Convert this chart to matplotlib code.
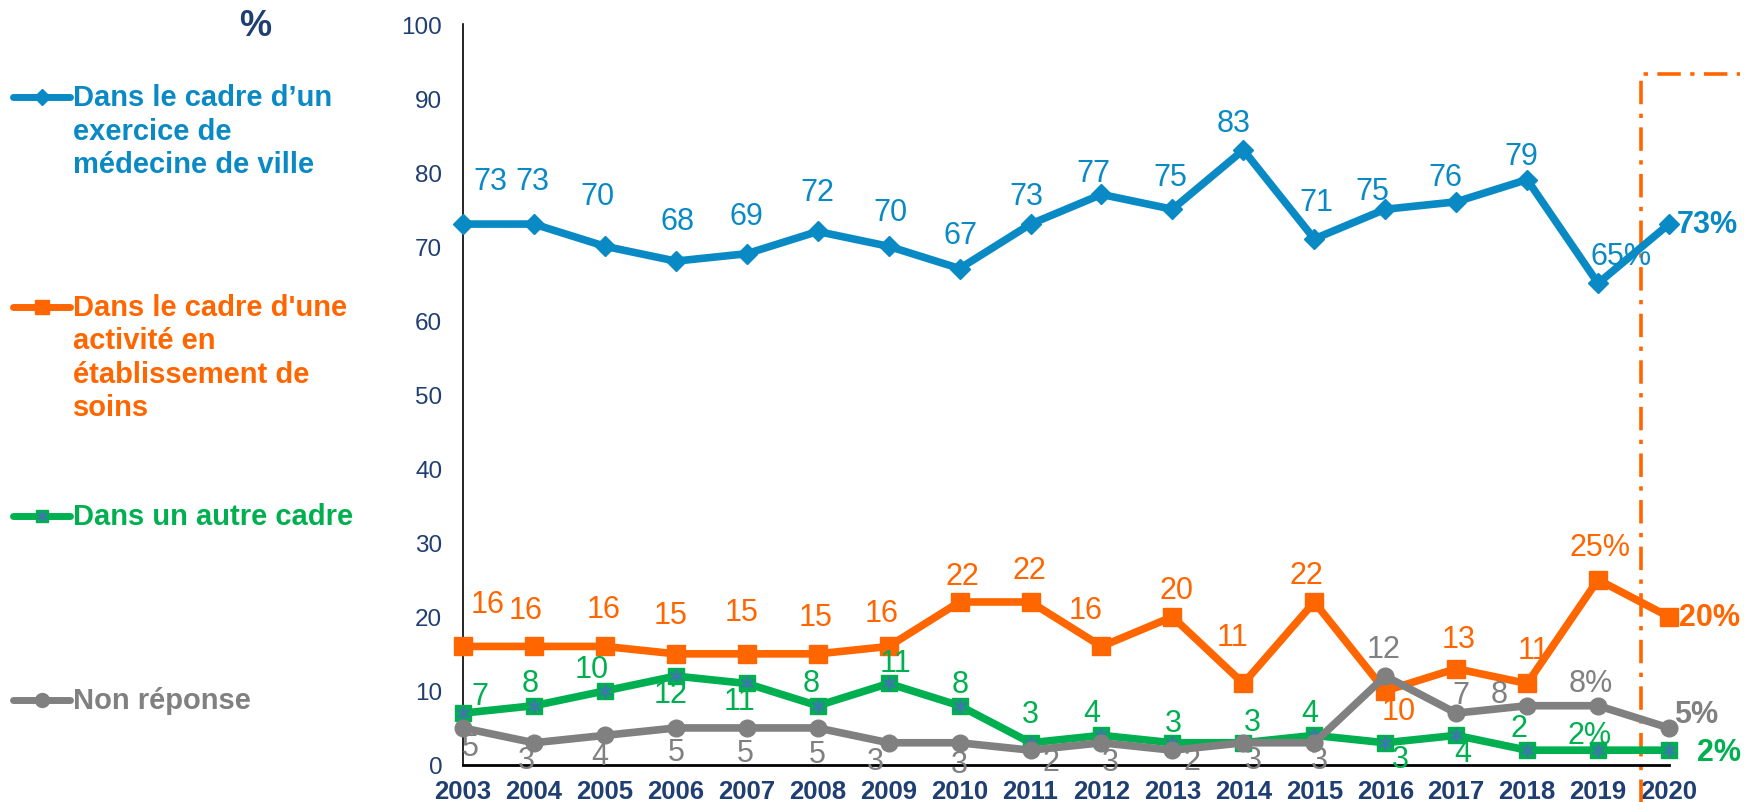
import matplotlib
matplotlib.use("Agg")
import matplotlib.pyplot as plt
from matplotlib.lines import Line2D

plt.rcParams['font.family'] = ['Liberation Sans', 'DejaVu Sans']

W, H = 1744, 803

# ---------------- data ----------------
years = list(range(2003, 2021))
ville = [73, 73, 70, 68, 69, 72, 70, 67, 73, 77, 75, 83, 71, 75, 76, 79, 65, 73]
etablissement = [16, 16, 16, 15, 15, 15, 16, 22, 22, 16, 20, 11, 22, 10, 13, 11, 25, 20]
autre = [7, 8, 10, 12, 11, 8, 11, 8, 3, 4, 3, 3, 4, 3, 4, 2, 2, 2]
non_reponse = [5, 3, 4, 5, 5, 5, 3, 3, 2, 3, 2, 3, 3, 12, 7, 8, 8, 5]

legend_labels = [
    ["Dans le cadre d\u2019un", "exercice de", "m\u00e9decine de ville"],
    ["Dans le cadre d'une", "activit\u00e9 en", "\u00e9tablissement de", "soins"],
    ["Dans un autre cadre"],
    ["Non r\u00e9ponse"],
]
yticks = list(range(0, 101, 10))

# ---------------- styles ----------------
BLUE = '#0a8ac4'
ORANGE = '#ff6600'
GREEN = '#00b050'
GRAY = '#808080'
NAVY = '#1f3e72'

# label offsets in pixels (dx right, dy down) relative to the point
off_blue = [(27, -43), (-2, -43), (-7, -50), (2, -40), (0, -38), (0, -39), (2, -34), (1, -34),
            (-4, -28), (-8, -21), (-2, -32), (-10, -27), (2, -37), (-13, -18), (-11, -25),
            (-6, -24), (23, -27), (8, 0)]
off_orange = [(25, -42), (-8, -36), (-1, -37), (-5, -39), (-5, -42), (-2, -37), (-7, -33), (3, -26),
              (-1, -32), (-16, -36), (4, -27), (-11, -46), (-8, -27), (13, 20), (2, -30),
              (6, -33), (2, -33), (10, 0)]
off_green = [(17, -17), (-4, -23), (-13, -22), (-5, 18), (-7, 18), (-7, -23), (7, -20), (1, -22),
             (0, -29), (-10, -22), (1, -20), (9, -21), (-5, -22), (15, 16), (7, 18),
             (-8, -22), (-8, -15), (28, 2)]
off_gray = [(7, 19), (-8, 17), (-5, 21), (0, 24), (-1, 25), (0, 26), (-13, 18), (0, 21),
            (20, 12), (9, 19), (20, 11), (10, 17), (5, 17), (-2, -27), (5, -18),
            (-28, -12), (-7, -23), (5, -14)]

fig = plt.figure(figsize=(W / 100, H / 100), dpi=100)
ax = fig.add_axes([463 / W, 37 / H, (1669 - 463) / W, (766 - 25) / H])

series = [
    (ville, BLUE, dict(marker='D', ms=10), off_blue, 3),
    (etablissement, ORANGE, dict(marker='s', ms=12.5), off_orange, 4),
    (autre, GREEN, dict(marker='s', ms=11), off_green, 5),
    (non_reponse, GRAY, dict(marker='o', ms=12), off_gray, 6),
]

LABEL_FS = 22
for vals, col, mk, offs, z in series:
    ax.plot(years, vals, color=col, lw=5.5, mec=col, mfc=col, clip_on=False, zorder=z, **mk)
    if col == GREEN:
        ax.plot(years, vals, ls='none', marker=(6, 2, 0), ms=10, mew=1.4, color='#3a7aa8',
                clip_on=False, zorder=z + 0.1)
    n = len(vals)
    for i, (x, v) in enumerate(zip(years, vals)):
        dx, dy = offs[i]
        if i == n - 1:
            ax.annotate(f"{v}%", (x, v), xytext=(dx, -dy), textcoords='offset pixels',
                        ha='left', va='center', fontsize=LABEL_FS, fontweight='bold', color=col,
                        annotation_clip=False, zorder=10)
        else:
            txt = f"{v}%" if i == n - 2 else f"{v}"
            ax.annotate(txt, (x, v), xytext=(dx, -dy), textcoords='offset pixels',
                        ha='center', va='center', fontsize=LABEL_FS, color=col,
                        annotation_clip=False, zorder=10)

# highlight frame for 2020
ax.plot([2019.606, 2019.606, 2021.0], [-5.5, 93.2, 93.2], color=ORANGE, lw=2.6,
        dashes=(6.5, 2.6, 1.2, 2.6), clip_on=False, zorder=2)

ax.set_xlim(2003, 2020)
ax.set_ylim(0, 100)
ax.set_yticks(yticks)
ax.set_xticks(years)
ax.set_xticklabels([str(y) for y in years])
ax.tick_params(axis='y', length=0, pad=15, labelsize=17.5, labelcolor=NAVY)
ax.tick_params(axis='x', length=0, pad=10, labelsize=18.5, labelcolor=NAVY)
for lab in ax.get_xticklabels():
    lab.set_fontweight('bold')

for s in ['top', 'right']:
    ax.spines[s].set_visible(False)
ax.spines['left'].set_linewidth(1.2)
ax.spines['bottom'].set_linewidth(2)
ax.spines['left'].set_color('black')
ax.spines['bottom'].set_color('black')

# "%" unit label
fig.text(255 / W, 1 - 26 / H, "%", ha='center', va='center', fontsize=26,
         fontweight='bold', color=NAVY)

# legend (left side)
leg_items = [
    (legend_labels[0], BLUE, 'D', 8, 98),
    (legend_labels[1], ORANGE, 's', 10, 308),
    (legend_labels[2], GREEN, 's', 9, 517),
    (legend_labels[3], GRAY, 'o', 10, 701),
]
for lines, col, mk, ms, ypx in leg_items:
    yf = 1 - ypx / H
    fig.add_artist(Line2D([13 / W, 70 / W], [yf, yf], color=col, lw=5,
                          solid_capstyle='round', transform=fig.transFigure))
    fig.add_artist(Line2D([41.5 / W], [yf], color=col, marker=mk, ms=ms, ls='none',
                          transform=fig.transFigure))
    if col == GREEN:
        fig.add_artist(Line2D([41.5 / W], [yf], color='#3a7aa8', marker=(6, 2, 0), ms=8,
                              mew=1.2, ls='none', transform=fig.transFigure))
    for k, t in enumerate(lines):
        fig.text(73 / W, 1 - (ypx + k * 33.5) / H, t, ha='left', va='center',
                 fontsize=21, fontweight='bold', color=col)

fig.savefig("out.png", dpi=100)
